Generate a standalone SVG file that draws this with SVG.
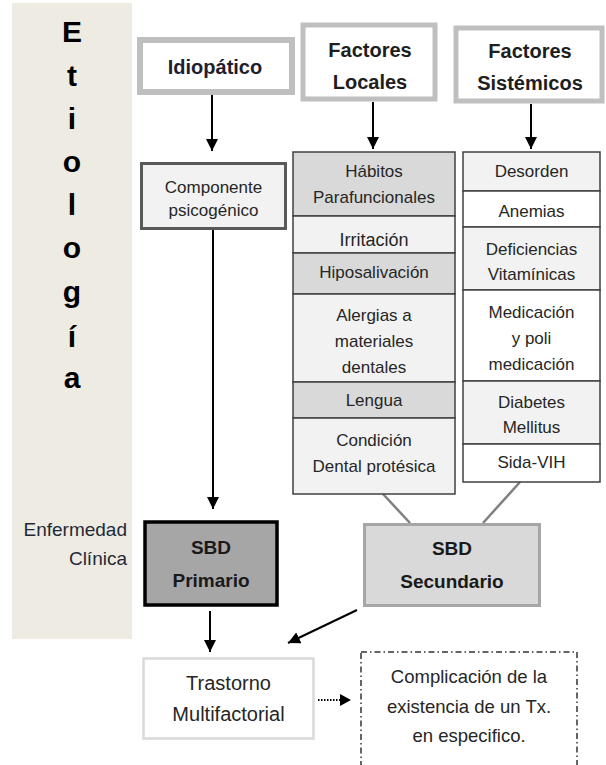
<svg xmlns="http://www.w3.org/2000/svg" width="606" height="765" viewBox="0 0 606 765">
<defs>
<marker id="ah" viewBox="0 0 10 10" refX="10" refY="5" markerWidth="12" markerHeight="12" markerUnits="userSpaceOnUse" orient="auto"><path d="M0,0 L10,5 L0,10 z" fill="#000"/></marker>
<marker id="ahs" viewBox="0 0 10 10" refX="10" refY="5" markerWidth="10" markerHeight="10" markerUnits="userSpaceOnUse" orient="auto"><path d="M0,0 L10,5 L0,10 z" fill="#000"/></marker>
</defs>
<style>
text{font-family:"Liberation Sans",Arial,sans-serif;fill:#262626;text-anchor:middle}
.b{font-weight:bold}
.t{font-size:17px}
.h{font-size:20px;font-weight:bold}
.big{font-size:30px;font-weight:bold;fill:#000}
.cell{stroke:#404040;stroke-width:1.5}
.c1{fill:#D9D9D9}.c2{fill:#F2F2F2}.c3{fill:#FFFFFF}
.arr{stroke:#000;stroke-width:2;fill:none;marker-end:url(#ah)}
.gl{stroke:#808080;stroke-width:2.5;fill:none}
</style>
<rect x="12" y="3" width="120" height="636" fill="#EEEBE2"/>
<g id="etiologia">
<text class="big" x="72" y="42">E</text>
<text class="big" x="72" y="86">t</text>
<text class="big" x="72" y="129">i</text>
<text class="big" x="72" y="172">o</text>
<text class="big" x="72" y="215">l</text>
<text class="big" x="72" y="258">o</text>
<text class="big" x="72" y="302">g</text>
<text class="big" x="72" y="347">í</text>
<text class="big" x="72" y="388">a</text>
</g>
<g id="enfermedad">
<text x="127" y="536" style="text-anchor:end;font-size:19px;fill:#1f2a38">Enfermedad</text>
<text x="127" y="565" style="text-anchor:end;font-size:19px;fill:#1f2a38">Clínica</text>
</g>
<g id="connectors">
<line class="arr" x1="212" y1="95" x2="212" y2="151"/>
<line class="arr" x1="373" y1="102" x2="373" y2="149"/>
<line class="arr" x1="531" y1="104" x2="531" y2="149"/>
<line class="arr" x1="213" y1="230" x2="213" y2="509"/>
<line class="arr" x1="210" y1="611" x2="210" y2="652"/>
<line class="arr" x1="357" y1="610" x2="288" y2="643"/>
<line stroke="#000" stroke-width="2" stroke-dasharray="1.5 1.5" x1="318" y1="700" x2="340" y2="700"/>
<path d="M340,694 L351,700 L340,706 z" fill="#000"/>
<line class="gl" x1="383" y1="494" x2="410" y2="523"/>
<line class="gl" x1="520" y1="482" x2="483" y2="523"/>
</g>
<g id="idiopatico">
<rect x="140" y="40" width="152" height="52" fill="#fff" stroke="#BFBFBF" stroke-width="6"/>
<text class="h" x="215" y="74" style="fill:#1e1e30">Idiopático</text>
</g>
<g id="factores-locales">
<rect x="303" y="25" width="132" height="74" fill="#fff" stroke="#BFBFBF" stroke-width="5"/>
<text class="h" x="370" y="57" style="fill:#1e1e1e">Factores</text>
<text class="h" x="370" y="89" style="fill:#1e1e1e">Locales</text>
</g>
<g id="factores-sistemicos">
<rect x="456" y="28" width="146" height="73" fill="#fff" stroke="#BFBFBF" stroke-width="5"/>
<text class="h" x="530" y="58" style="fill:#1e1e1e">Factores</text>
<text class="h" x="530" y="90" style="fill:#1e1e1e">Sistémicos</text>
</g>
<g id="componente">
<rect x="141.5" y="163.5" width="144" height="65" fill="#F2F2F2" stroke="#595959" stroke-width="3"/>
<text class="t" x="213.5" y="193">Componente</text>
<text class="t" x="213.5" y="216">psicogénico</text>
</g>
<g id="locales-stack">
<rect class="cell c1" x="293" y="152" width="162" height="64"/>
<rect class="cell c2" x="293" y="216" width="162" height="37"/>
<rect class="cell c1" x="293" y="253" width="162" height="41"/>
<rect class="cell c2" x="293" y="294" width="162" height="88"/>
<rect class="cell c1" x="293" y="382" width="162" height="36"/>
<rect class="cell c2" x="293" y="418" width="162" height="76"/>
<text class="t" x="374" y="177">Hábitos</text>
<text class="t" x="374" y="203">Parafuncionales</text>
<text class="t" x="374" y="246" style="font-size:18px">Irritación</text>
<text class="t" x="374" y="278">Hiposalivación</text>
<text class="t" x="374" y="321">Alergias a</text>
<text class="t" x="374" y="347">materiales</text>
<text class="t" x="374" y="373">dentales</text>
<text class="t" x="374" y="406">Lengua</text>
<text class="t" x="374" y="446">Condición</text>
<text class="t" x="374" y="472">Dental protésica</text>
</g>
<g id="sistemicos-stack">
<rect class="cell c2" x="463" y="152" width="137" height="39"/>
<rect class="cell c3" x="463" y="191" width="137" height="36"/>
<rect class="cell c2" x="463" y="227" width="137" height="63"/>
<rect class="cell c3" x="463" y="290" width="137" height="91"/>
<rect class="cell c2" x="463" y="381" width="137" height="63"/>
<rect class="cell c3" x="463" y="444" width="137" height="38"/>
<text class="t" x="531.5" y="177">Desorden</text>
<text class="t" x="531.5" y="217">Anemias</text>
<text class="t" x="531.5" y="255">Deficiencias</text>
<text class="t" x="531.5" y="280">Vitamínicas</text>
<text class="t" x="531.5" y="318">Medicación</text>
<text class="t" x="531.5" y="344">y poli</text>
<text class="t" x="531.5" y="370">medicación</text>
<text class="t" x="531.5" y="408">Diabetes</text>
<text class="t" x="531.5" y="433">Mellitus</text>
<text class="t" x="531.5" y="468">Sida-VIH</text>
</g>
<g id="sbd-primario">
<rect x="145" y="522" width="132" height="83" fill="#A6A6A6" stroke="#000" stroke-width="3.5"/>
<text class="h" x="211" y="554" style="font-size:19px;fill:#1a1a1a">SBD</text>
<text class="h" x="211" y="587" style="font-size:19px;fill:#1a1a1a">Primario</text>
</g>
<g id="sbd-secundario">
<rect x="364.5" y="524.5" width="175" height="81" fill="#D9D9D9" stroke="#A6A6A6" stroke-width="3"/>
<text class="h" x="452" y="555" style="font-size:19px;fill:#1a1a1a">SBD</text>
<text class="h" x="452" y="588" style="font-size:19px;fill:#1a1a1a">Secundario</text>
</g>
<g id="trastorno">
<rect x="143.5" y="658.5" width="170" height="80" fill="#fff" stroke="#D9D9D9" stroke-width="2.5"/>
<text x="228.5" y="690" style="font-size:20px">Trastorno</text>
<text x="228.5" y="721" style="font-size:20px">Multifactorial</text>
</g>
<g id="complicacion">
<rect x="361" y="652" width="216" height="125" fill="#fff" stroke="#333" stroke-width="1.5" stroke-dasharray="6 3 1.5 3"/>
<text x="469" y="683" style="font-size:18.5px">Complicación de la</text>
<text x="469" y="713" style="font-size:18.5px">existencia de un Tx.</text>
<text x="469" y="742" style="font-size:18.5px">en especifico.</text>
</g>
</svg>
